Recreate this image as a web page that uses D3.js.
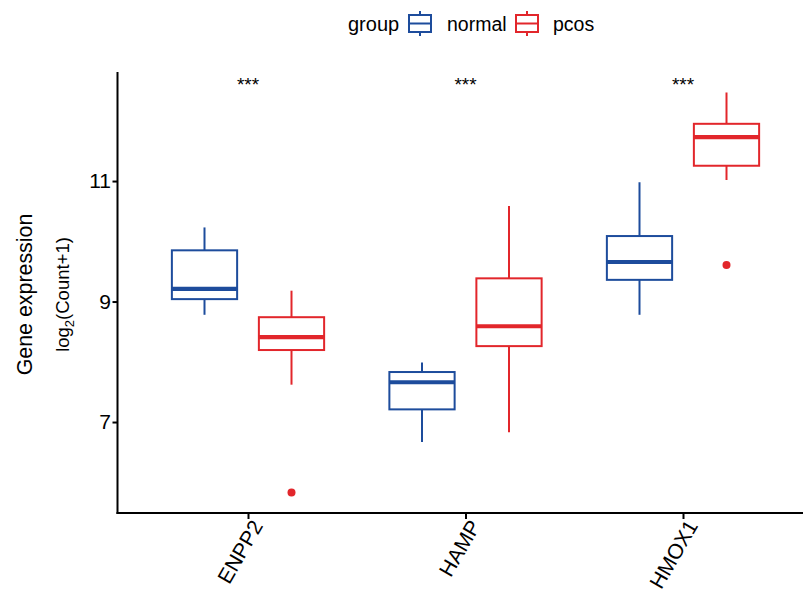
<!DOCTYPE html>
<html><head><meta charset="utf-8">
<script src="https://cdn.jsdelivr.net/npm/d3@7"></script>
<style>body{margin:0;background:#fff}svg{display:block}text{font-family:"Liberation Sans",Arial,sans-serif}</style>
</head><body><svg id="c" width="803" height="592"></svg>
<script>
const categories = ["ENPP2", "HAMP", "HMOX1"];
const groups = ["normal", "pcos"];
// [lower whisker, Q1, median, Q3, upper whisker]
const normalStats = [[8.78, 9.04, 9.21, 9.85, 10.23], [6.67, 7.21, 7.66, 7.83, 7.99], [8.78, 9.36, 9.656, 10.087, 10.98]];
const pcosStats = [[7.62, 8.195, 8.41, 8.74, 9.18], [6.83, 8.26, 8.59, 9.385, 10.585], [11.017, 11.254, 11.73, 11.95, 12.47]];
const normalOutliers = [[], [], []];
const pcosOutliers = [[5.83], [], [9.606]];
const yTicks = [7, 9, 11];
const sigLabels = ["***", "***", "***"];
const colors = {normal: "#1D4C9C", pcos: "#E2262B"};

const svg = d3.select("#c");
const pLeft = 117.5, pTop = 72, pBottom = 513;
const unit = 217.5;
const x = d3.scaleLinear().domain([0.4, 3.6]).range([pLeft, pLeft + 3.2 * unit]);
const y = d3.scaleLinear().domain([5.49, 12.81]).range([pBottom, pTop]);
const boxW = 0.3, dodge = 0.2;

const stats = {normal: normalStats, pcos: pcosStats};
const outs = {normal: normalOutliers, pcos: pcosOutliers};

groups.forEach((g, gi) => {
  categories.forEach((c, ci) => {
    const s = stats[g][ci];
    const pos = ci + 1 + (gi === 0 ? -dodge : dodge);
    const cx = x(pos);
    const x0 = x(pos - boxW / 2);
    const x1 = x(pos + boxW / 2);
    const gg = svg.append("g").attr("stroke", colors[g]).attr("fill", "none");
    gg.append("line").attr("x1", cx).attr("x2", cx).attr("y1", y(s[4])).attr("y2", y(s[3])).attr("stroke-width", 2);
    gg.append("line").attr("x1", cx).attr("x2", cx).attr("y1", y(s[1])).attr("y2", y(s[0])).attr("stroke-width", 2);
    gg.append("rect").attr("x", x0).attr("y", y(s[3])).attr("width", x1 - x0).attr("height", y(s[1]) - y(s[3]))
      .attr("fill", "#fff").attr("stroke-width", 2);
    gg.append("line").attr("x1", x0).attr("x2", x1).attr("y1", y(s[2])).attr("y2", y(s[2])).attr("stroke-width", 4.2);
    outs[g][ci].forEach(v => {
      svg.append("circle").attr("cx", cx).attr("cy", y(v)).attr("r", 4).attr("fill", colors[g]);
    });
  });
});

// significance
categories.forEach((c, ci) => {
  svg.append("text").attr("x", x(ci + 1)).attr("y", 91).attr("text-anchor", "middle")
    .attr("font-size", 19).attr("fill", "#000").text(sigLabels[ci]);
});

// axes
const yAxis = d3.axisLeft(y).tickValues(yTicks).tickSize(5).tickPadding(1.5).tickFormat(d3.format("d"));
const ya = svg.append("g").attr("transform", `translate(${pLeft},0)`).call(yAxis);
ya.select(".domain").remove();
ya.selectAll(".tick line").attr("stroke", "#000").attr("stroke-width", 2);
ya.selectAll(".tick text").attr("font-size", 21).attr("fill", "#000").attr("font-family", "Liberation Sans, Arial, sans-serif");
svg.append("line").attr("x1", pLeft).attr("x2", pLeft).attr("y1", pTop).attr("y2", pBottom + 1).attr("stroke", "#000").attr("stroke-width", 2);

const xa = svg.append("g").attr("transform", `translate(0,${pBottom})`)
  .call(d3.axisBottom(x).tickValues([1, 2, 3]).tickSize(6).tickFormat(d => categories[d - 1]));
xa.select(".domain").remove();
xa.selectAll(".tick line").attr("stroke", "#000").attr("stroke-width", 2);
xa.selectAll(".tick text").attr("font-size", 21).attr("fill", "#000").attr("font-family", "Liberation Sans, Arial, sans-serif")
  .attr("text-anchor", "end").attr("dy", null).attr("y", null)
  .attr("transform", "translate(2,5) rotate(-60)").attr("dominant-baseline", "hanging");
svg.append("line").attr("x1", pLeft - 1).attr("x2", 803).attr("y1", pBottom).attr("y2", pBottom).attr("stroke", "#000").attr("stroke-width", 2);

// y titles
const midY = (pTop + pBottom) / 2 + 2;
svg.append("text").attr("transform", `translate(32,${midY}) rotate(-90)`).attr("text-anchor", "middle")
  .attr("font-size", 21.4).attr("fill", "#000").text("Gene expression");
const t2 = svg.append("text").attr("transform", `translate(69,${midY}) rotate(-90)`).attr("text-anchor", "middle")
  .attr("font-size", 18.5).attr("fill", "#000");
t2.append("tspan").text("log");
t2.append("tspan").attr("font-size", 13).attr("dy", 5).text("2");
t2.append("tspan").attr("dy", -5).text("(Count+1)");

// legend
const lg = svg.append("g");
lg.append("text").attr("x", 348).attr("y", 31).attr("font-size", 20).attr("fill", "#000").text("group");
const keys = [{g: "normal", kx: 408, tx: 447}, {g: "pcos", kx: 515, tx: 553}];
keys.forEach(k => {
  const kg = lg.append("g").attr("stroke", colors[k.g]).attr("fill", "none").attr("stroke-width", 2);
  kg.append("line").attr("x1", k.kx + 12).attr("x2", k.kx + 12).attr("y1", 11).attr("y2", 36);
  kg.append("rect").attr("x", k.kx + 1).attr("y", 15).attr("width", 22).attr("height", 17).attr("fill", "#fff");
  kg.append("line").attr("x1", k.kx + 1).attr("x2", k.kx + 23).attr("y1", 23.5).attr("y2", 23.5);
  lg.append("text").attr("x", k.tx).attr("y", 31).attr("font-size", 19.5).attr("fill", "#000").text(k.g);
});
</script></body></html>
